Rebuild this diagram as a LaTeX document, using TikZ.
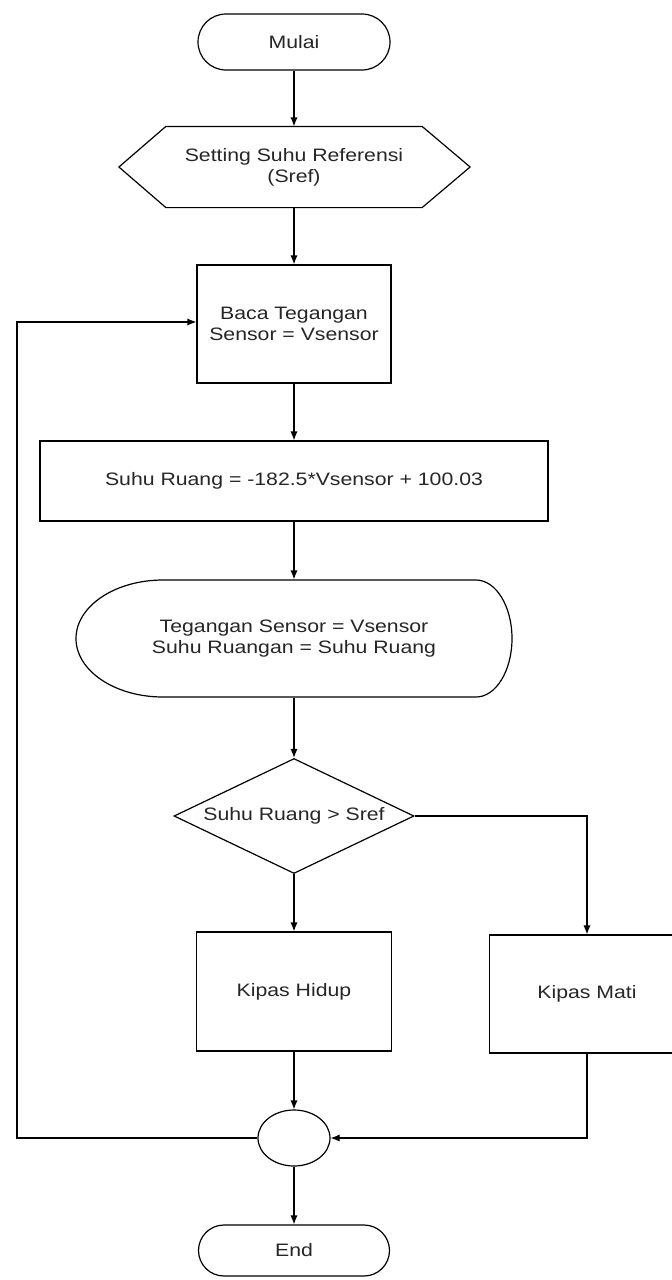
\documentclass[tikz,border=0pt]{standalone}
\usepackage{fontspec}
\setmainfont{Liberation Sans}[FakeStretch=1.18]
\usetikzlibrary{shapes.misc,shapes.geometric,arrows.meta}
\begin{document}
\begin{tikzpicture}[x=0.5pt,y=-0.5pt, line width=0.6pt,
  every node/.style={font=\fontsize{9}{10.5}\selectfont, text=black!85, align=center},
  term/.style={draw, rounded rectangle, minimum width=96pt, minimum height=28pt, inner sep=0pt},
  proc/.style={draw, rectangle, inner sep=0pt},
  arr/.style={-{Latex[length=4.5pt,width=3.6pt]}}]
\clip (0,0) rectangle (672,1280);
\fill[white] (0,0) rectangle (672,1280);

\node[term] (mulai) at (294,42) {Mulai};

\node[minimum width=127.5pt, minimum height=40pt, inner sep=0pt] (set) at (294,167) {Setting Suhu Referensi\\(Sref)};
\draw (set.north west) -- (set.north east) -- ([xshift=24pt]set.east) -- (set.south east) -- (set.south west) -- ([xshift=-23.5pt]set.west) -- cycle;

\node[proc, minimum width=97pt, minimum height=59pt] (baca) at (294,324) {Baca Tegangan\\Sensor = Vsensor};

\node[proc, minimum width=254pt, minimum height=40pt] (suhu) at (294,481) {Suhu Ruang = -182.5*Vsensor + 100.03};

\node[minimum width=218pt, minimum height=58.5pt, inner sep=0pt] (disp) at (294,638.5) {Tegangan Sensor = Vsensor\\Suhu Ruangan = Suhu Ruang};
\draw (163,580) -- (476,580) arc[start angle=90, end angle=-90, x radius=18pt, y radius=29.25pt] -- (163,697) arc[start angle=270, end angle=90, x radius=43.5pt, y radius=29.25pt] -- cycle;

\node[draw, diamond, aspect=2, minimum width=120pt, minimum height=57.5pt, inner sep=0pt] (dec) at (294,816) {Suhu Ruang > Sref};

\node[proc, minimum width=97.5pt, minimum height=59.5pt] (hidup) at (294,991.5) {Kipas Hidup};
\node[proc, minimum width=97.5pt, minimum height=59pt] (mati) at (587,994) {Kipas Mati};

\node[draw, ellipse, minimum width=36pt, minimum height=28pt, inner sep=0pt] (circ) at (294,1138) {};

\node[term, minimum width=95.5pt, minimum height=25.5pt] (end) at (294,1250.5) {End};

\draw[arr] (mulai.south) -- (set.north);
\draw[arr] (set.south) -- (baca.north);
\draw[arr] (baca.south) -- (suhu.north);
\draw[arr] (suhu.south) -- (disp.north);
\draw[arr] (disp.south) -- (dec.north);
\draw[arr] (dec.south) -- (hidup.north);
\draw[arr] (dec.east) -| (mati.north);
\draw[arr] (hidup.south) -- (circ.north);
\draw[arr] (mati.south) |- (circ.east);
\coordinate (lft) at (17,1138);
\draw[arr] (circ.west) -- (lft) |- ([yshift=1pt]baca.west);
\draw[arr] (circ.south) -- (end.north);
\end{tikzpicture}
\end{document}
